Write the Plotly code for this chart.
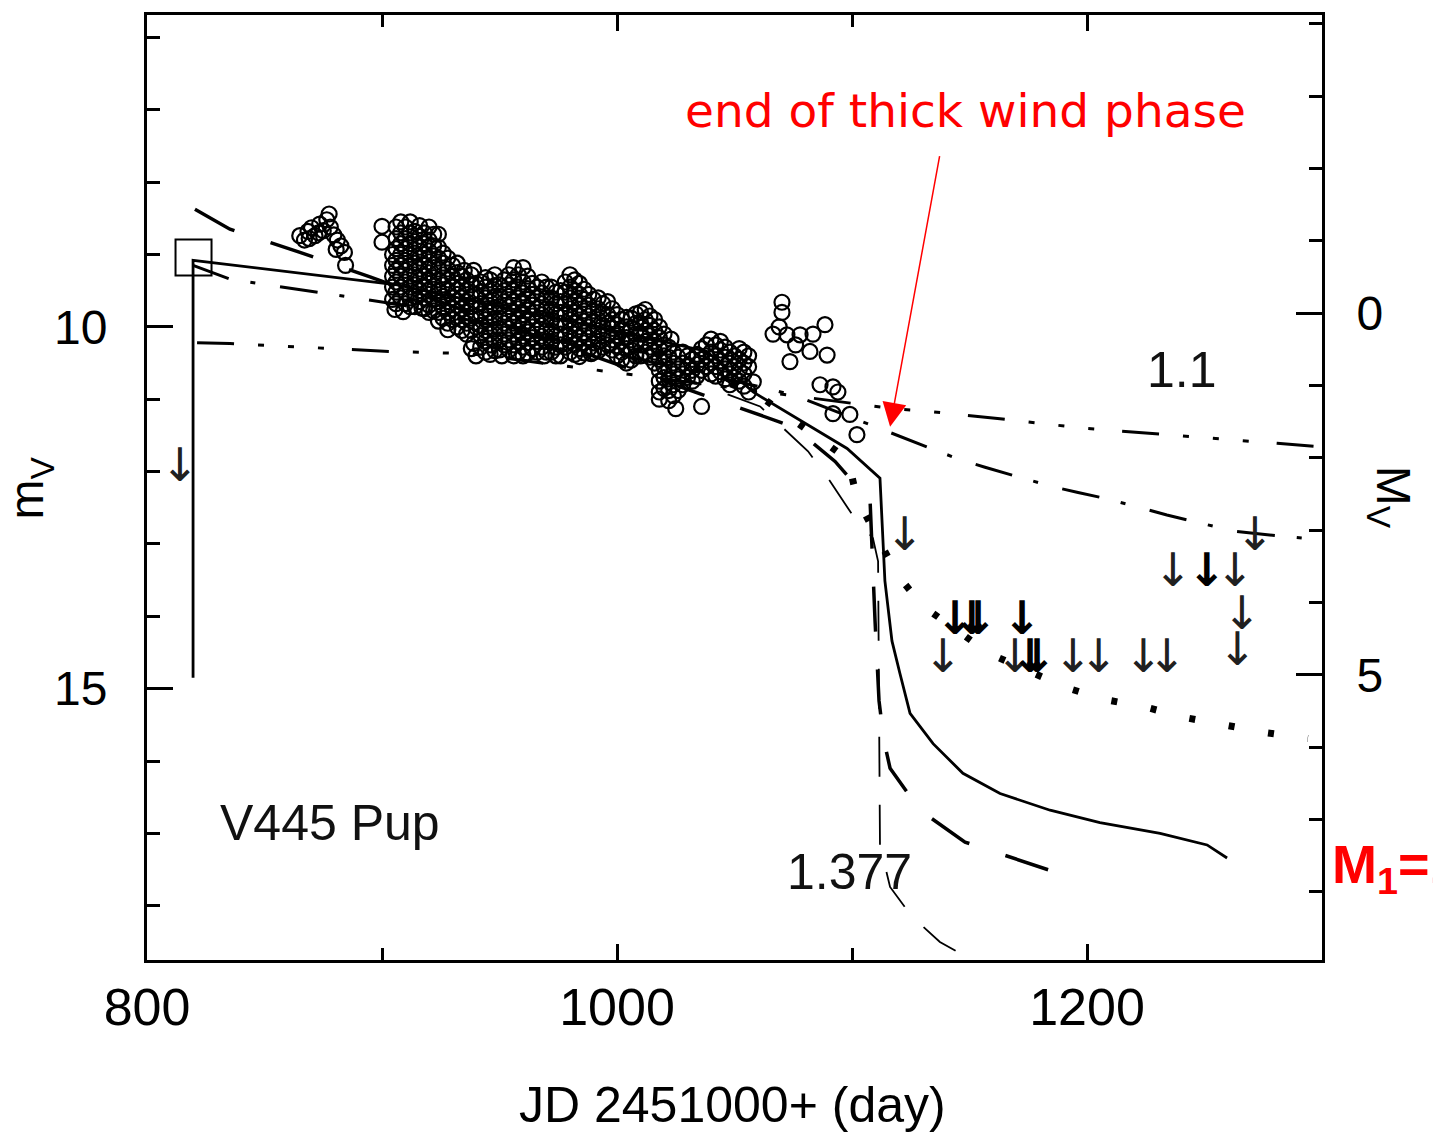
import plotly.graph_objects as go

# ---------------- axes ----------------
x_range = [800, 1300]
mv_range = [18.75, 5.69]          # reversed magnitude axis
mv_to_Mv = 9.81                   # M_V = m_V - 9.81
Mv_range = [mv_range[0] - mv_to_Mv, mv_range[1] - mv_to_Mv]

# ---------------- observations (JD-2451000, m_V) ----------------
obs_early = [(865.0, 8.74), (867.0, 8.80), (868.5, 8.68), (870.0, 8.63), (871.5, 8.74),
             (873.5, 8.58), (875.0, 8.67), (876.5, 8.52), (877.5, 8.44), (878.0, 8.62),
             (879.5, 8.73), (881.0, 8.80), (882.5, 8.88), (884.0, 8.97), (884.5, 9.15),
             (869.0, 8.78), (873.0, 8.70), (880.5, 8.93),
             (900.0, 8.61), (900.0, 8.83)]
obs_block = [(904.5, 9.00), (904.5, 9.15), (904.5, 9.30), (904.5, 9.45), (904.5, 9.62), (905.5, 9.76),
             (908, 8.55), (908, 8.70), (908, 8.85), (908, 9.00), (908, 9.15), (908, 9.30), (908, 9.45), (908, 9.60), (909, 9.79),
             (912, 8.55), (912, 8.70), (912, 8.85), (912, 9.00), (912, 9.15), (912, 9.30), (912, 9.45), (912, 9.60), (912, 9.72),
             (916, 8.60), (916, 8.75), (916, 8.90), (916, 9.05), (916, 9.20), (916, 9.35), (916, 9.50), (916, 9.65), (917, 9.74),
             (920, 8.62), (920, 8.80), (920, 8.95), (920, 9.10), (920, 9.25), (920, 9.40), (920, 9.55), (920, 9.70), (920, 9.80),
             (924, 8.72), (924, 8.90), (924, 9.05), (924, 9.20), (924, 9.35), (924, 9.50), (924, 9.65), (924, 9.80), (924, 9.92),
             (906, 8.62), (906, 8.78), (906, 8.92), (906, 9.08), (906, 9.22), (906, 9.38), (906, 9.52), (906, 9.68),
             (910, 8.62), (910, 8.78), (910, 8.92), (910, 9.08), (910, 9.22), (910, 9.38), (910, 9.52), (910, 9.68),
             (914, 8.68), (914, 8.82), (914, 8.98), (914, 9.12), (914, 9.28), (914, 9.42), (914, 9.58), (914, 9.72),
             (918, 8.70), (918, 8.85), (918, 9.00), (918, 9.15), (918, 9.30), (918, 9.45), (918, 9.60), (918, 9.75),
             (922, 8.72), (922, 8.88), (922, 9.02), (922, 9.18), (922, 9.32), (922, 9.48), (922, 9.62), (922, 9.78),
             (926, 8.98), (926, 9.12), (926, 9.28), (926, 9.42), (926, 9.58), (926, 9.72), (926, 9.88)]
obs_mid = [(928, 9.05), (928, 9.20), (928, 9.35), (928, 9.50), (928, 9.65), (928, 9.80), (928, 9.95), (928, 10.04),
           (932, 9.12), (932, 9.25), (932, 9.40), (932, 9.55), (932, 9.70), (932, 9.85), (932, 10.00),
           (935, 9.22), (936, 9.35), (936, 9.50), (936, 9.65), (936, 9.80), (936, 9.95), (936, 10.10),
           (939, 9.22), (940, 9.40), (940, 9.55), (940, 9.70), (940, 9.85), (940, 10.00), (939, 10.23), (940, 10.40),
           (944, 9.32), (944, 9.45), (944, 9.60), (944, 9.75), (944, 9.90), (944, 10.05), (944, 10.20), (944, 10.35),
           (948, 9.28), (948, 9.43), (948, 9.58), (948, 9.73), (948, 9.88), (948, 10.03), (948, 10.18), (948, 10.33),
           (952, 9.35), (952, 9.50), (952, 9.65), (952, 9.80), (952, 9.95), (952, 10.10), (952, 10.25), (951, 10.40),
           (956, 9.18), (956, 9.35), (956, 9.50), (956, 9.65), (956, 9.80), (956, 9.95), (956, 10.10), (956, 10.25), (956, 10.40),
           (960, 9.18), (960, 9.38), (960, 9.53), (960, 9.68), (960, 9.83), (960, 9.98), (960, 10.13), (960, 10.28), (960, 10.40),
           (964, 9.40), (964, 9.55), (964, 9.70), (964, 9.85), (964, 10.00), (964, 10.15), (964, 10.30),
           (968, 9.38), (968, 9.53), (968, 9.68), (968, 9.83), (968, 9.98), (968, 10.13), (968, 10.28), (969, 10.40),
           (972, 9.45), (972, 9.60), (972, 9.75), (972, 9.90), (972, 10.05), (972, 10.20), (972, 10.35),
           (976, 9.50), (976, 9.65), (976, 9.80), (976, 9.95), (976, 10.10), (976, 10.25), (976, 10.40),
           (980, 9.28), (980, 9.45), (980, 9.60), (980, 9.75), (980, 9.90), (980, 10.05), (980, 10.20), (980, 10.35),
           (984, 9.40), (984, 9.55), (984, 9.70), (984, 9.85), (984, 10.00), (984, 10.15), (984, 10.30), (984, 10.41),
           (988, 9.55), (988, 9.70), (988, 9.85), (988, 10.00), (988, 10.15), (988, 10.30), (989, 10.37),
           (992, 9.60), (992, 9.75), (992, 9.90), (992, 10.05), (992, 10.20), (992, 10.33),
           (996, 9.65), (996, 9.83), (996, 9.95), (996, 10.10), (996, 10.25),
           (930, 9.15), (930, 9.30), (930, 9.45), (930, 9.60), (930, 9.75), (930, 9.90),
           (934, 9.30), (934, 9.45), (934, 9.60), (934, 9.75), (934, 9.90), (934, 10.05),
           (938, 9.28), (938, 9.42), (938, 9.58), (938, 9.72), (938, 9.88), (938, 10.05), (938, 10.30),
           (942, 9.38), (942, 9.52), (942, 9.68), (942, 9.82), (942, 9.98), (942, 10.12), (942, 10.28),
           (946, 9.35), (946, 9.50), (946, 9.65), (946, 9.80), (946, 9.95), (946, 10.10), (946, 10.25), (946, 10.38),
           (950, 9.42), (950, 9.58), (950, 9.72), (950, 9.88), (950, 10.02), (950, 10.18), (950, 10.32),
           (954, 9.28), (954, 9.42), (954, 9.58), (954, 9.72), (954, 9.88), (954, 10.02), (954, 10.18), (954, 10.32),
           (958, 9.28), (958, 9.45), (958, 9.60), (958, 9.75), (958, 9.90), (958, 10.05), (958, 10.20), (958, 10.35),
           (962, 9.30), (962, 9.47), (962, 9.62), (962, 9.77), (962, 9.92), (962, 10.07), (962, 10.22), (962, 10.36),
           (966, 9.45), (966, 9.60), (966, 9.75), (966, 9.90), (966, 10.05), (966, 10.20), (966, 10.35),
           (970, 9.45), (970, 9.60), (970, 9.75), (970, 9.90), (970, 10.05), (970, 10.20), (970, 10.35),
           (974, 9.52), (974, 9.68), (974, 9.82), (974, 9.98), (974, 10.12), (974, 10.28), (974, 10.40),
           (978, 9.38), (978, 9.52), (978, 9.68), (978, 9.82), (978, 9.98), (978, 10.12), (978, 10.28),
           (982, 9.35), (982, 9.50), (982, 9.65), (982, 9.80), (982, 9.95), (982, 10.10), (982, 10.25), (982, 10.38),
           (986, 9.48), (986, 9.62), (986, 9.78), (986, 9.92), (986, 10.08), (986, 10.22), (986, 10.36),
           (990, 9.62), (990, 9.78), (990, 9.92), (990, 10.08), (990, 10.22), (990, 10.35),
           (994, 9.68), (994, 9.82), (994, 9.98), (994, 10.12), (994, 10.28),
           (998, 9.75), (998, 9.90), (998, 10.02), (998, 10.18), (998, 10.32)]
obs_late = [(1000, 9.83), (1000, 9.97), (1000, 10.12), (1000, 10.27), (1000, 10.40),
            (1004, 9.87), (1004, 10.00), (1004, 10.15), (1004, 10.30), (1004, 10.50),
            (1008, 9.82), (1008, 9.95), (1008, 10.10), (1008, 10.25), (1008, 10.40),
            (1012, 9.76), (1012, 9.90), (1012, 10.05), (1012, 10.20), (1012, 10.35),
            (1016, 9.90), (1016, 10.05), (1016, 10.20), (1016, 10.35), (1016, 10.50),
            (1020, 10.10), (1020, 10.25), (1020, 10.40), (1020, 10.55), (1020, 10.70), (1020, 10.85), (1018, 11.00),
            (1023, 10.17), (1024, 10.35), (1024, 10.50), (1024, 10.65), (1024, 10.80), (1024, 10.95), (1025, 11.13),
            (1028, 10.35), (1028, 10.50), (1028, 10.65), (1028, 10.80),
            (1032, 10.45), (1032, 10.60), (1032, 10.75),
            (1036, 10.30), (1036, 10.45), (1036, 10.60), (1036, 11.10),
            (1040, 10.17), (1040, 10.35), (1040, 10.50), (1040, 10.65),
            (1044, 10.20), (1044, 10.32), (1044, 10.47), (1044, 10.62),
            (1048, 10.35), (1048, 10.50), (1048, 10.65), (1048, 10.80),
            (1052, 10.30), (1052, 10.45), (1052, 10.60), (1052, 10.75),
            (1056, 10.40), (1056, 10.55), (1058, 10.76), (1056, 10.90),
            (1002, 9.90), (1002, 10.05), (1002, 10.20), (1002, 10.35), (1002, 10.45),
            (1006, 9.88), (1006, 10.02), (1006, 10.18), (1006, 10.32), (1006, 10.46),
            (1010, 9.80), (1010, 9.95), (1010, 10.10), (1010, 10.25), (1010, 10.40),
            (1014, 9.85), (1014, 9.98), (1014, 10.12), (1014, 10.28), (1014, 10.42),
            (1018, 10.00), (1018, 10.15), (1018, 10.30), (1018, 10.45), (1018, 10.60), (1018, 10.75), (1018, 10.90),
            (1022, 10.28), (1022, 10.42), (1022, 10.58), (1022, 10.72), (1022, 10.88), (1022, 11.02),
            (1026, 10.42), (1026, 10.58), (1026, 10.72), (1026, 10.88),
            (1030, 10.40), (1030, 10.55), (1030, 10.70),
            (1034, 10.38), (1034, 10.52), (1034, 10.68),
            (1038, 10.25), (1038, 10.40), (1038, 10.55),
            (1042, 10.25), (1042, 10.40), (1042, 10.55), (1042, 10.68),
            (1046, 10.28), (1046, 10.42), (1046, 10.58), (1046, 10.72),
            (1050, 10.40), (1050, 10.55), (1050, 10.70),
            (1054, 10.35), (1054, 10.50), (1054, 10.65), (1054, 10.82)]
obs_end = [(1070.2, 9.66), (1070.2, 9.80), (1066.4, 10.10), (1072.3, 10.11), (1077.9, 10.11),
           (1083.4, 10.10), (1088.5, 9.97), (1073.6, 10.48), (1082.1, 10.34), (1089.4, 10.39),
           (1069.0, 10.00), (1076.0, 10.25), (1086.4, 10.80), (1091.9, 10.83), (1094.0, 10.90),
           (1091.9, 11.20), (1099.1, 11.21), (1102.1, 11.49)]

# upper limits (arrows)
limit_thin = [(814, 11.97), (1122.5, 12.92), (1138.7, 14.61), (1169.4, 14.61), (1194, 14.61),
              (1205, 14.61), (1224, 14.61), (1234, 14.61), (1264, 14.52), (1266, 14.02),
              (1271.5, 12.92), (1236.6, 13.42), (1263, 13.42)]
limit_bold = [(1143.8, 14.09), (1151, 14.09), (1153.6, 14.09), (1172.3, 14.09),
              (1175.7, 14.61), (1178.7, 14.61), (1251, 13.42)]

# pre-outburst square
square_day = [819.8]
square_mag = [9.04]

# ---------------- model light curves ----------------
solid_day = [819.6, 819.6, 906.4, 1001.3, 1038.3, 1057.9, 1097.9, 1111.9, 1114.0, 1117.0, 1120.4,
             1124.7, 1134.5, 1147.2, 1163.0, 1184.3, 1205.5, 1231.1, 1251.1, 1259.6]
solid_mag = [14.85, 9.08, 9.42, 10.07, 10.34, 10.90, 11.68, 12.09, 13.51, 14.34, 14.79,
             15.34, 15.76, 16.17, 16.45, 16.68, 16.85, 17.00, 17.16, 17.34]

thick_dash_day = [820.4, 835.3, 865.1, 894.9, 1074.9, 1092.8, 1107.7, 1108.5, 1109.8, 1111.5,
                  1113.6, 1116.2, 1128.9, 1148.1, 1168.5, 1190.6]
thick_dash_mag = [8.375, 8.65, 8.97, 9.31, 11.38, 11.86, 12.41, 13.14, 14.06, 15.17,
                  15.72, 16.10, 16.68, 17.12, 17.34, 17.58]

thin_dash_day = [992.8, 1060.9, 1081.3, 1090.6, 1100.0, 1108.9, 1111.1, 1111.5, 1111.9, 1116.2,
                 1125.5, 1137.4, 1148.9, 1158.7]
thin_dash_mag = [10.28, 11.10, 11.72, 12.13, 12.59, 12.92, 13.24, 15.17, 17.16, 17.74,
                 18.15, 18.50, 18.71, 18.95]

dotted_day = [1001.3, 1060.9, 1098.3, 1102.1, 1119.1, 1130.2, 1158.7, 1191.5, 1207.7, 1225.5,
              1241.7, 1259.6, 1276.6, 1294.0]
dotted_mag = [10.14, 10.96, 11.83, 12.37, 13.42, 13.86, 14.52, 14.99, 15.15, 15.26,
              15.40, 15.52, 15.61, 15.69]

dashdot_day = [819.6, 835.3, 908.9, 1063.8, 1076.6, 1117.4, 1144.7, 1156.6, 1184.3, 1196.2,
               1207.7, 1223.8, 1234.0, 1262.1, 1275.7, 1294.9, 1300.0]
dashdot_mag = [9.15, 9.34, 9.70, 10.85, 10.96, 11.47, 11.82, 11.94, 12.20, 12.29,
               12.37, 12.51, 12.60, 12.82, 12.87, 12.93, 12.96]

m11_day = [821.3, 835.3, 903.6, 937.4, 1117.4, 1130.2, 1163.0, 1198.3, 1280.9, 1294.9, 1300.0]
m11_mag = [10.22, 10.23, 10.34, 10.37, 11.13, 11.16, 11.27, 11.40, 11.61, 11.65, 11.66]

# ---------------- labels ----------------
label_phase = "end of thick wind phase"
phase_text_pos = (1148.5, 7.01)
phase_arrow_tail = (1137.4, 7.62)
phase_arrow_head = (1116.2, 11.38)
label_11 = ("1.1", 1240.4, 10.59)
label_1377 = ("1.377", 1099.1, 17.53)
label_star = ("V445 Pup", 877.9, 16.85)

black = "black"
fig = go.Figure()


def line(xs, ys, width, dash):
    fig.add_trace(go.Scatter(x=xs, y=ys, mode="lines", hoverinfo="skip",
                             line=dict(color=black, width=width, dash=dash)))


line(m11_day, m11_mag, 3, "37px,24px,6px,24px,6px,24px,6px,28px")
line(dashdot_day, dashdot_mag, 3, "38px,22px,5px,25px")
line(dotted_day, dotted_mag, 7, "6px,34px")
line(thin_dash_day, thin_dash_mag, 1.8, "40px,28px")
line(thick_dash_day, thick_dash_mag, 3.5, "45px,38px")
line(solid_day, solid_mag, 2.8, "solid")

obs_all = obs_early + obs_block + obs_mid + obs_late + obs_end
fig.add_trace(go.Scatter(x=[p[0] for p in obs_all], y=[p[1] for p in obs_all], mode="markers",
                         hoverinfo="skip",
                         marker=dict(symbol="circle-open", size=15, color=black,
                                     line=dict(color=black, width=2.2))))

fig.add_trace(go.Scatter(x=square_day, y=square_mag, mode="markers", hoverinfo="skip",
                         marker=dict(symbol="square-open", size=36, color=black,
                                     line=dict(color=black, width=2))))

fig.add_trace(go.Scatter(x=[p[0] for p in limit_thin], y=[p[1] for p in limit_thin],
                         mode="text", text=["↓"] * len(limit_thin), hoverinfo="skip",
                         textposition="middle center",
                         textfont=dict(family="DejaVu Sans", size=46, color="#202020")))
fig.add_trace(go.Scatter(x=[p[0] for p in limit_bold], y=[p[1] for p in limit_bold],
                         mode="text", text=["<b>↓</b>"] * len(limit_bold), hoverinfo="skip",
                         textposition="middle center",
                         textfont=dict(family="DejaVu Sans", size=46, color=black)))

# secondary axis carrier
fig.add_trace(go.Scatter(x=[], y=[], yaxis="y2", showlegend=False, hoverinfo="skip"))

tick_font = dict(family="Liberation Sans", size=48, color=black)
common = dict(ticks="inside", tickwidth=3, tickcolor=black, showline=True, linewidth=3,
              linecolor=black, showgrid=False, zeroline=False)

fig.update_layout(
    width=1433, height=1137,
    margin=dict(l=147, r=111, t=12, b=177),
    paper_bgcolor="white", plot_bgcolor="white", showlegend=False,
    xaxis=dict(range=x_range, tick0=0, dtick=200, ticklen=16, mirror="ticks",
               minor=dict(tick0=0, dtick=100, ticks="inside", ticklen=12, tickwidth=3,
                          tickcolor=black, showgrid=False),
               tickfont=dict(family="Liberation Sans", size=52, color=black),
               ticklabelstandoff=0, **common),
    yaxis=dict(range=mv_range, tick0=0, dtick=5, ticklen=26, mirror=False,
               minor=dict(tick0=0, dtick=1, ticks="inside", ticklen=13, tickwidth=3,
                          tickcolor=black, showgrid=False),
               tickfont=tick_font, ticklabelstandoff=27, **common),
    yaxis2=dict(range=Mv_range, overlaying="y", side="right", tick0=0, dtick=5, ticklen=26,
                minor=dict(tick0=0, dtick=1, ticks="inside", ticklen=13, tickwidth=3,
                           tickcolor=black, showgrid=False),
                tickfont=tick_font, ticklabelstandoff=22, **common),
)

ann = [
    dict(text="JD 2451000+ (day)", x=0.4987, y=-0.153, xref="paper", yref="paper",
         xanchor="center", yanchor="middle",
         showarrow=False, font=dict(family="Liberation Sans", size=50, color=black)),
    dict(text="m<sub>V</sub>", x=-0.0996, y=0.50, xref="paper", yref="paper", textangle=-90,
         xanchor="center", yanchor="middle",
         showarrow=False, font=dict(family="Liberation Sans", size=48, color=black)),
    dict(text="M<sub>V</sub>", x=1.058, y=0.49, xref="paper", yref="paper", textangle=90,
         xanchor="center", yanchor="middle",
         showarrow=False, font=dict(family="Liberation Sans", size=48, color=black)),
    dict(text="<b>M<sub>1</sub>=1.377</b>", x=1.0068, y=0.097, xref="paper", yref="paper",
         xanchor="left", yanchor="middle", showarrow=False,
         font=dict(family="Liberation Sans", size=54, color="red")),
    dict(text=label_phase, x=phase_text_pos[0], y=phase_text_pos[1], xref="x", yref="y",
         showarrow=False, font=dict(family="DejaVu Sans", size=47, color="red")),
    dict(text="", x=phase_arrow_head[0], y=phase_arrow_head[1], ax=phase_arrow_tail[0],
         ay=phase_arrow_tail[1], xref="x", yref="y", axref="x", ayref="y", showarrow=True,
         arrowhead=2, arrowsize=3.2, arrowwidth=1.5, arrowcolor="red", standoff=0),
]
for t, xx, yy in (label_11, label_1377, label_star):
    ann.append(dict(text=t, x=xx, y=yy, xref="x", yref="y", showarrow=False,
                    font=dict(family="Liberation Sans", size=50, color="#111")))
fig.update_layout(annotations=ann)

fig.write_html("out.html", config={"displayModeBar": False},
               post_script="document.body.style.margin='0';")
